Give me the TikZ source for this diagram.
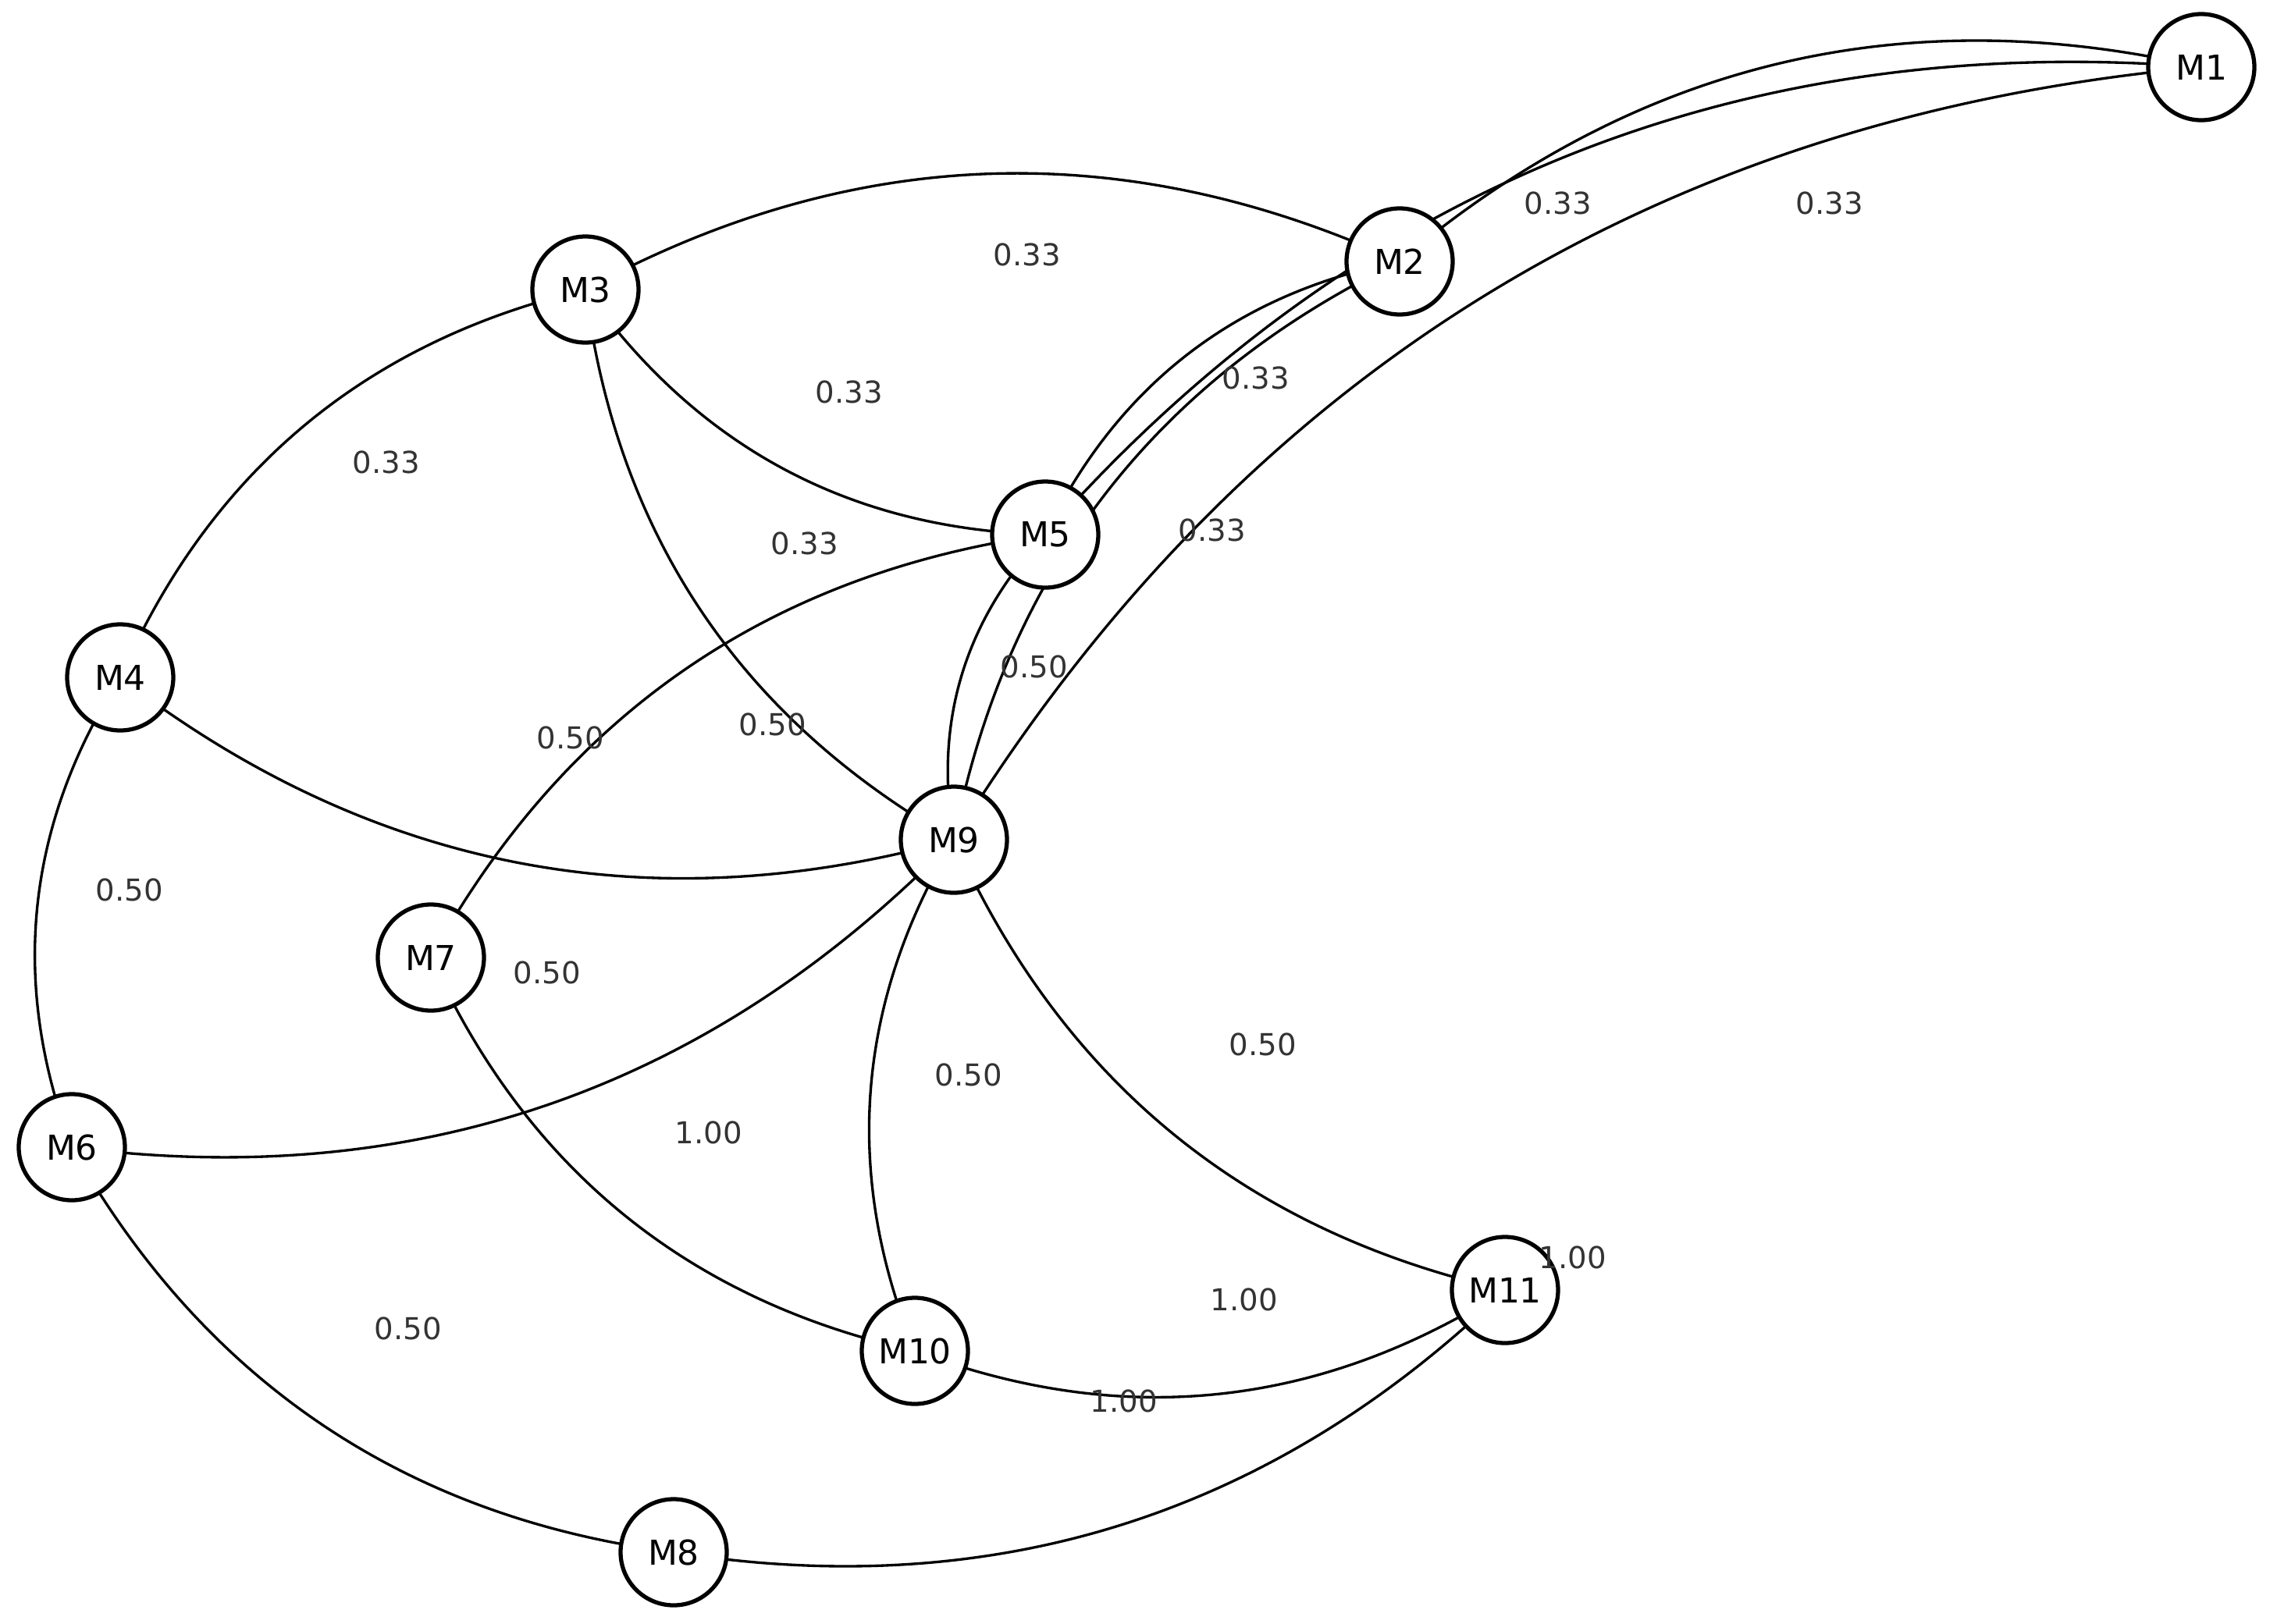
\documentclass[tikz,border=0pt]{standalone}
\usepackage{fontspec}
\setmainfont{DejaVu Sans}
\usetikzlibrary{backgrounds, calc}
\definecolor{inkblack}{RGB}{0, 0, 0}
\definecolor{labelgray}{RGB}{51, 51, 51}

\begin{document}
\begin{tikzpicture}[
            mnode/.style={circle, draw=inkblack, line width=1.5pt, fill=white, minimum size=1.36cm, inner sep=0pt, font=\fontsize{12.5}{14}\selectfont},
            link/.style={draw=inkblack, line width=0.95pt, bend right=26.57, looseness=0.952},
            wlabel/.style={font=\fontsize{11}{13}\selectfont, text=labelgray, inner sep=0pt}
        ]
            \useasboundingbox (0,0) rectangle (29.17,-20.80);

            % machines
            \node[mnode] (m1) at (28.20,-0.86) {M1};
            \node[mnode] (m2) at (17.93,-3.35) {M2};
            \node[mnode] (m3) at (7.50,-3.71) {M3};
            \node[mnode] (m4) at (1.54,-8.68) {M4};
            \node[mnode] (m5) at (13.39,-6.85) {M5};
            \node[mnode] (m6) at (0.92,-14.70) {M6};
            \node[mnode] (m7) at (5.52,-12.27) {M7};
            \node[mnode] (m8) at (8.63,-19.89) {M8};
            \node[mnode] (m9) at (12.22,-10.76) {M9};
            \node[mnode] (m10) at (11.72,-17.31) {M10};
            \node[mnode] (m11) at (19.28,-16.53) {M11};

            % transitions, centre to centre, hidden under the circles
            \begin{scope}[on background layer]
                \draw[link] (m1.center) to (m2.center);
                \draw[link] (m1.center) to (m5.center);
                \draw[link] (m1.center) to (m9.center);
                \draw[link] (m2.center) to (m3.center);
                \draw[link] (m2.center) to (m5.center);
                \draw[link] (m2.center) to (m9.center);
                \draw[link] (m3.center) to (m4.center);
                \draw[link] (m3.center) to (m5.center);
                \draw[link] (m3.center) to (m9.center);
                \draw[link] (m4.center) to (m6.center);
                \draw[link] (m4.center) to (m9.center);
                \draw[link] (m5.center) to (m7.center);
                \draw[link] (m5.center) to (m9.center);
                \draw[link] (m6.center) to (m8.center);
                \draw[link] (m6.center) to (m9.center);
                \draw[link] (m7.center) to (m10.center);
                \draw[link] (m9.center) to (m10.center);
                \draw[link] (m9.center) to (m11.center);
                \draw[link] (m10.center) to (m11.center);
                \draw[link] (m8.center) to (m11.center);
            \end{scope}

            % weights
            \node[wlabel] (wa) at (19.96,-2.60) {0.33};
            \node[wlabel] (wb) at (23.44,-2.60) {0.33};
            \node[wlabel] (w23) at (13.16,-3.26) {0.33};
            \node[wlabel] (w35) at (10.88,-5.02) {0.33};
            \node[wlabel] (w34) at (4.95,-5.92) {0.33};
            \node[wlabel] (w25) at (16.09,-4.84) {0.33};
            \node[wlabel] (w29) at (15.53,-6.79) {0.33};
            \node[wlabel] (w39) at (10.31,-6.96) {0.33};
            \node[wlabel] (w59) at (13.25,-8.54) {0.50};
            \node[wlabel] (w57) at (9.90,-9.28) {0.50};
            \node[wlabel] (w49) at (7.31,-9.45) {0.50};
            \node[wlabel] (w46) at (1.66,-11.40) {0.50};
            \node[wlabel] (w69) at (7.01,-12.46) {0.50};
            \node[wlabel] (w910) at (12.41,-13.77) {0.50};
            \node[wlabel] (w911) at (16.18,-13.38) {0.50};
            \node[wlabel] (w710) at (9.08,-14.51) {1.00};
            \node[wlabel] (w1011) at (15.94,-16.65) {1.00};
            \node[wlabel] (wc) at (20.15,-16.11) {1.00};
            \node[wlabel] (w811) at (14.40,-17.95) {1.00};
            \node[wlabel] (w68) at (5.23,-17.02) {0.50};
        \end{tikzpicture}
\end{document}
